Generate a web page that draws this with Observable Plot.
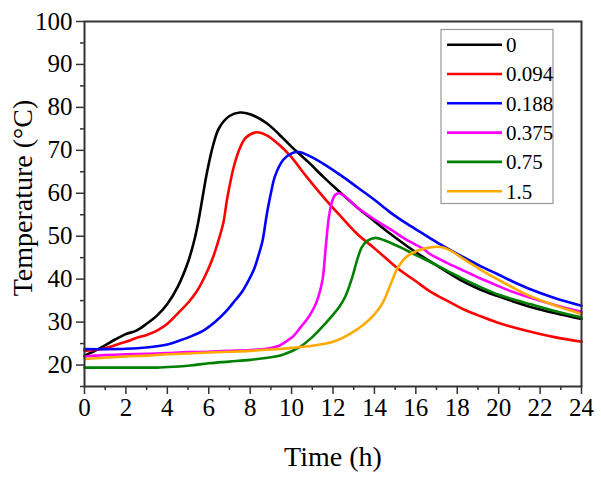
<!DOCTYPE html>
<html><head><meta charset="utf-8">
<script src="https://cdn.jsdelivr.net/npm/d3@7"></script>
<script src="https://cdn.jsdelivr.net/npm/@observablehq/plot@0.6"></script>
<style>
body{margin:0;background:#fff;}
#wrap{position:relative;width:601px;height:478px;}
#wrap svg text{font-family:"Liberation Serif",serif !important;}
</style></head><body><div id="wrap"></div>
<script>
const seriesNames = ["0","0.094","0.188","0.375","0.75","1.5"];
const seriesColors = ["#000000","#ff0000","#0000ff","#ff00ff","#008000","#ffaa00"];
const xTicks = [0,2,4,6,8,10,12,14,16,18,20,22,24];
const xMinor = [1,3,5,7,9,11,13,15,17,19,21,23];
const yTicks = [20,30,40,50,60,70,80,90,100];
const yMinor = [15,25,35,45,55,65,75,85,95];

const s0 = [[0,22.2],[0.5,23.3],[1,24.6],[1.5,26.0],[2,27.2],[2.5,28.0],[3,29.6],[3.5,31.5],[4,34.2],[4.5,38.2],[5,44.0],[5.3,49],[5.5,53.5],[5.7,59],[5.9,64.5],[6.2,71.0],[6.5,75.2],[7,78.0],[7.5,78.8],[8,78.4],[8.8,76.3],[9.4,73.7],[9.94,71.1],[10.8,67.3],[11.56,63.7],[12.3,60.4],[13.17,56.7],[14,53.5],[14.78,50.5],[15.6,47.6],[16.4,45.0],[17.2,42.6],[18.3,39.4],[19.1,37.6],[19.93,36.1],[20.7,34.8],[21.5,33.6],[22.7,32.1],[24,30.7]];
const s1 = [[0,23.3],[0.7,23.6],[1.4,24.5],[2,25.4],[2.5,26.3],[3,27.0],[3.5,28.0],[4,29.6],[4.6,32.5],[5,34.5],[5.4,37.0],[5.8,40.5],[6.2,45.0],[6.5,49.5],[6.7,53.0],[6.9,59.0],[7.2,66.0],[7.5,70.5],[7.8,73.0],[8.3,74.2],[8.8,73.5],[9.4,71.3],[9.94,68.7],[10.7,64.0],[11.56,59.0],[12.3,55.0],[13.17,50.5],[14,47.2],[15.1,42.6],[16,39.5],[16.7,37.1],[17.5,35.0],[18.3,33.0],[19.1,31.4],[19.93,29.9],[20.7,28.8],[21.5,27.8],[22.7,26.5],[24,25.4]];
const s2 = [[0,23.7],[1,23.7],[2,23.8],[3,24.1],[4,24.8],[4.6,25.7],[5.2,26.8],[5.8,28.2],[6.3,30.0],[6.8,32.3],[7.3,35.2],[7.6,37.0],[7.9,39.5],[8.2,42.5],[8.4,45.5],[8.6,49.0],[8.8,55.0],[9.0,60.0],[9.2,64.0],[9.6,67.8],[10.0,69.3],[10.35,69.6],[10.9,68.6],[11.56,66.8],[12.4,64.1],[13.17,61.4],[14,58.5],[14.78,55.5],[15.6,52.8],[16.38,50.5],[16.7,49.5],[17.5,47.2],[18.3,45.1],[19.1,43.1],[19.93,41.2],[20.7,39.4],[21.5,37.7],[22.7,35.6],[24,33.8]];
const s3 = [[0,22.0],[1,22.3],[2,22.5],[3,22.6],[4,22.8],[5,23.0],[6,23.1],[7,23.3],[8,23.5],[8.8,23.8],[9.4,24.5],[9.8,25.7],[10.1,26.8],[10.4,28.6],[10.8,31.0],[11.1,33.5],[11.3,36.0],[11.5,40.0],[11.65,47.5],[11.8,54.4],[11.95,58.0],[12.1,59.6],[12.28,60.0],[12.6,59.2],[13.17,56.7],[14.3,53.0],[14.78,51.6],[15.5,49.3],[16.38,47.0],[16.7,45.8],[17.5,43.8],[18.3,42.0],[19.1,40.2],[19.93,38.5],[20.7,37.0],[21.5,35.7],[22.7,34.0],[24,32.4]];
const s4 = [[0,19.4],[1,19.4],[2,19.4],[3,19.4],[3.5,19.4],[4.3,19.6],[5.1,19.9],[6,20.4],[7,20.8],[8,21.2],[9,21.8],[9.5,22.3],[10,23.2],[10.4,24.2],[11,26.5],[11.6,29.5],[12.3,33.5],[12.6,36.0],[12.9,40.0],[13.2,45.0],[13.4,47.5],[13.65,48.9],[14.05,49.6],[14.5,49.0],[15.26,47.4],[16,45.6],[16.7,44.0],[17.5,42.0],[18.3,40.0],[19.1,38.2],[19.93,36.5],[20.7,35.3],[21.5,34.2],[22.7,32.6],[24,31.1]];
const s5 = [[0,21.4],[1,21.7],[2,22.0],[3,22.2],[4,22.5],[5,22.7],[6,22.9],[7,23.1],[8,23.3],[9,23.6],[10,24.0],[11,24.5],[12,25.4],[12.8,27.2],[13.5,29.5],[14,31.8],[14.4,34.5],[14.8,39.0],[15.1,42.4],[15.5,45.0],[16.06,46.6],[16.7,47.4],[17.2,47.5],[17.7,46.6],[18.3,44.7],[19.1,42.3],[19.93,40.0],[20.7,38.0],[21.5,36.1],[22.7,33.9],[24,31.9]];

const allSeries = [s0,s1,s2,s3,s4,s5];
const data = allSeries.flatMap((s,i)=>s.map(([t,T])=>({t,T,k:seriesNames[i]})));

const font = "Liberation Serif";
const axisColor = "#333";
const tickText = {fontFamily:font, fontSize:25, fill:"#000"};

const plot = Plot.plot({
  width:601, height:478,
  marginLeft:84, marginRight:20, marginTop:21, marginBottom:92,
  style:{fontFamily:font, fontSize:"25px", color:"#000", background:"#fff", overflow:"visible"},
  x:{domain:[0,24]},
  y:{domain:[15,100]},
  color:{domain:seriesNames, range:seriesColors},
  marks:[
    Plot.axisX({ticks:xMinor, tickSize:4, tickFormat:()=>"", label:null, stroke:axisColor, strokeWidth:1.5}),
    Plot.axisX({ticks:xTicks, tickSize:8, tickPadding:4, label:null, stroke:axisColor, strokeWidth:1.5, ...tickText}),
    Plot.axisY({ticks:yMinor, tickSize:4, tickFormat:()=>"", label:null, stroke:axisColor, strokeWidth:1.5}),
    Plot.axisY({ticks:yTicks, tickSize:8, tickPadding:4, label:null, stroke:axisColor, strokeWidth:1.5, ...tickText}),
    Plot.line(data,{x:"t", y:"T", stroke:"k", z:"k", strokeWidth:2.6, curve:"catmull-rom"}),
    Plot.frame({stroke:axisColor, strokeWidth:2})
  ]
});

const svg = d3.select(plot);
svg.selectAll("text").style("font-family", font);
svg.append("text")
  .attr("x",333).attr("y",466)
  .attr("text-anchor","middle")
  .style("font-family",font).style("font-size","28px").attr("fill","#000")
  .text("Time (h)");
svg.append("text")
  .attr("transform","translate(32,198) rotate(-90)")
  .attr("text-anchor","middle")
  .style("font-family",font).style("font-size","28px").attr("fill","#000")
  .text("Temperature (°C)");

const lg = svg.append("g").attr("text-anchor","start");
lg.append("rect").attr("x",441).attr("y",29.5).attr("width",112).attr("height",174)
  .attr("fill","#fff").attr("stroke","#999").attr("stroke-width",1.2);
seriesNames.forEach((n,i)=>{
  const y = 44.7 + 29.3*i;
  lg.append("line").attr("x1",447).attr("x2",502).attr("y1",y).attr("y2",y)
    .attr("stroke",seriesColors[i]).attr("stroke-width",2.6);
  lg.append("text").attr("x",506).attr("y",y).attr("dy","0.35em").attr("text-anchor","start")
    .style("font-family",font).style("font-size","21px").attr("fill","#000").text(n);
});

document.getElementById("wrap").appendChild(plot);
</script></body></html>
